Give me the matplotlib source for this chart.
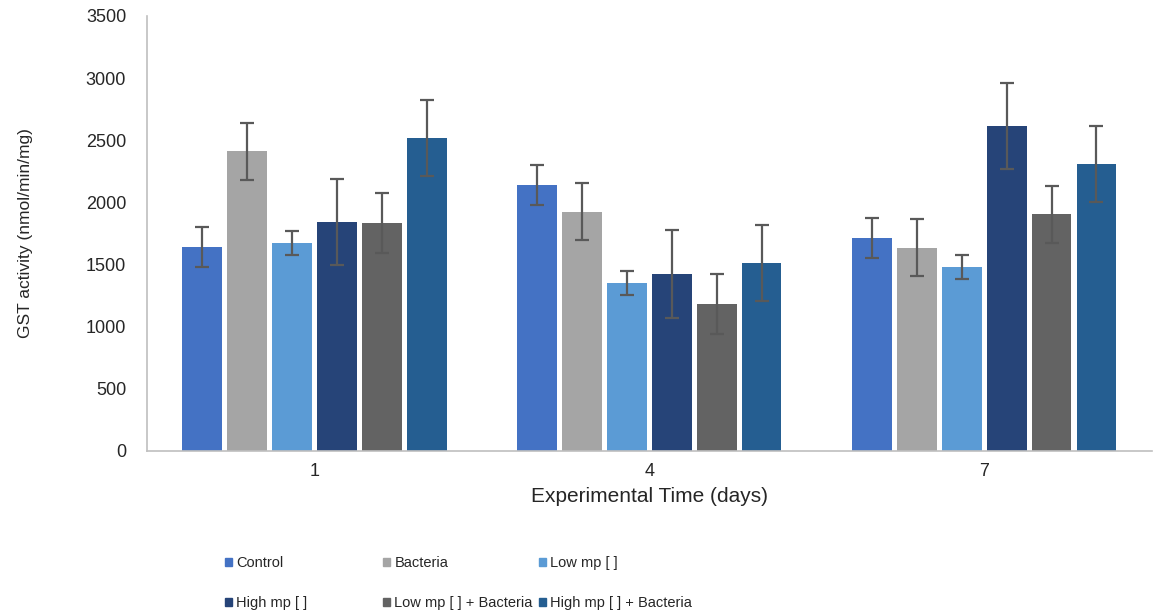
import numpy as np
import matplotlib.pyplot as plt
from matplotlib.patches import Patch

plt.rcParams['font.family'] = ['Liberation Sans', 'DejaVu Sans']

# Datos
dias = ['1', '4', '7']
grupos = ['Control', 'Bacteria', 'Low mp [ ]', 'High mp [ ]',
          'Low mp [ ] + Bacteria', 'High mp [ ] + Bacteria']

control = [1640, 2140, 1715]
bacteria = [2410, 1925, 1635]
low_mp = [1675, 1350, 1480]
high_mp = [1845, 1420, 2615]
low_mp_bact = [1835, 1185, 1905]
high_mp_bact = [2520, 1515, 2310]

err_control = [160, 160, 160]
err_bacteria = [230, 230, 230]
err_low_mp = [95, 97, 97]
err_high_mp = [346, 354, 346]
err_low_mp_bact = [241, 241, 230]
err_high_mp_bact = [306, 305, 306]

valores = [control, bacteria, low_mp, high_mp, low_mp_bact, high_mp_bact]
errores = [err_control, err_bacteria, err_low_mp, err_high_mp,
           err_low_mp_bact, err_high_mp_bact]
colores = ['#4472C4', '#A5A5A5', '#5B9BD5', '#264478', '#636363', '#255E91']

fig = plt.figure(figsize=(11.54, 6.14), dpi=100)
ax = fig.add_axes([0.1274, 0.2655, 0.8706, 0.7085])

x = np.arange(len(dias))
paso = 0.134
ancho = 0.119
for i, (vals, errs, c) in enumerate(zip(valores, errores, colores)):
    ax.bar(x + (i - 2.5) * paso, vals, width=ancho, color=c,
           yerr=errs, capsize=5,
           error_kw=dict(ecolor='#595959', elinewidth=1.6, capthick=1.6))

ax.set_xlim(-0.5, 2.5)
ax.set_ylim(0, 3500)
ax.set_yticks(range(0, 3501, 500))
ax.set_xticks(x)
ax.set_xticklabels(dias)
ax.tick_params(axis='both', length=0, labelsize=13, colors='#262626')
ax.tick_params(axis='y', pad=15)
ax.tick_params(axis='x', pad=9)

for s in ['top', 'right']:
    ax.spines[s].set_visible(False)
for s in ['left', 'bottom']:
    ax.spines[s].set_color('#BFBFBF')
    ax.spines[s].set_linewidth(1.2)

ax.set_xlabel('Experimental Time (days)', fontsize=15, color='#262626', labelpad=5)
ax.set_ylabel('GST activity (nmol/min/mg)', fontsize=12.5, color='#262626', labelpad=38)

# Leyenda en tres columnas de dos filas
cols_x = [0.1885, 0.3254, 0.4606]
for k in range(3):
    idx = [k, k + 3]
    hs = [Patch(color=colores[j]) for j in idx]
    leg = fig.legend(hs, [grupos[j] for j in idx], loc='upper left',
                     bbox_to_anchor=(cols_x[k], 0.106), frameon=False,
                     fontsize=10.5, handlelength=0.5, handleheight=0.5,
                     handletextpad=0.3, labelspacing=1.8, borderpad=0)
    for t in leg.get_texts():
        t.set_color('#262626')

fig.savefig('out.png', dpi=100)
